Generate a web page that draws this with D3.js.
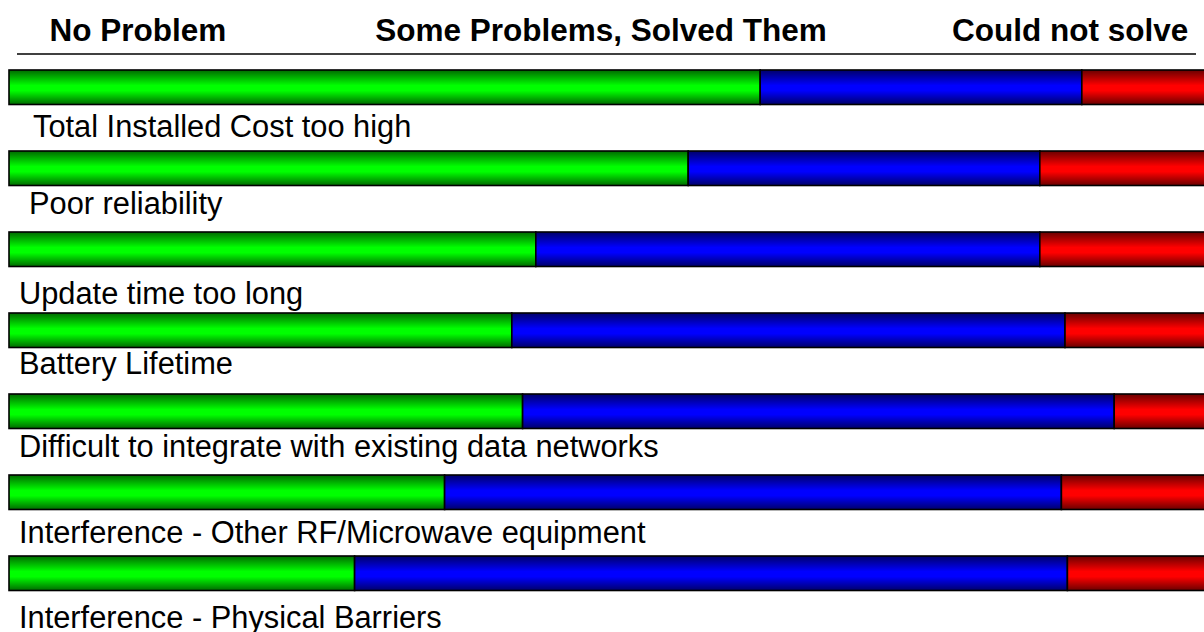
<!DOCTYPE html>
<html>
<head>
<meta charset="utf-8">
<script src="https://cdn.jsdelivr.net/npm/d3@7"></script>
<style>
  html, body { margin: 0; padding: 0; background: #fff; }
  svg { display: block; }
</style>
</head>
<body>
<svg id="chart" width="1204" height="632"></svg>
<script>
// Survey: problems encountered with wireless deployments (share of respondents, %)
const categories = [
  "Total Installed Cost too high",
  "Poor reliability",
  "Update time too long",
  "Battery Lifetime",
  "Difficult to integrate with existing data networks",
  "Interference - Other RF/Microwave equipment",
  "Interference - Physical Barriers"
];
const seriesNames = ["No Problem", "Some Problems, Solved Them", "Could not solve"];
const noProblem    = [62.6, 56.6, 43.9, 41.9, 42.8, 36.3, 28.8];
const solvedThem   = [26.8, 29.3, 42.0, 46.1, 49.3, 51.4, 59.4];
const couldNotSolve = [10.6, 14.1, 14.1, 12.0, 7.9, 12.3, 11.8];

// layout
const barLeft = 9, barRight = 1209;
const barTop0 = 70, barStep = 81, barH = 34.5;
// label offsets below each bar: [dx, baseline from bar top]
const labelLayout = [[33, 66.5], [29, 62.5], [19, 72], [19, 60.5], [19, 63], [19, 68], [19, 72]];
const headerX = [138, 601, 952];
const palette = [
  { dark: "#006a00", light: "#00ff00" },
  { dark: "#00006a", light: "#0000ff" },
  { dark: "#6a0000", light: "#ff0000" }
];

const svg = d3.select("#chart");
const defs = svg.append("defs");
palette.forEach((c, i) => {
  const g = defs.append("linearGradient")
    .attr("id", "grad" + i).attr("x1", 0).attr("y1", 0).attr("x2", 0).attr("y2", 1);
  g.append("stop").attr("offset", "0%").attr("stop-color", c.dark);
  g.append("stop").attr("offset", "45%").attr("stop-color", c.light);
  g.append("stop").attr("offset", "60%").attr("stop-color", c.light);
  g.append("stop").attr("offset", "100%").attr("stop-color", c.dark);
});

const rows = categories.map((name, i) => ({
  name,
  "No Problem": noProblem[i],
  "Some Problems, Solved Them": solvedThem[i],
  "Could not solve": couldNotSolve[i]
}));
const stacked = d3.stack().keys(seriesNames)(rows);

const x = d3.scaleLinear().domain([0, 100]).range([barLeft, barRight]);
const y = d3.scalePoint().domain(categories).range([barTop0, barTop0 + barStep * (categories.length - 1)]);

// header
svg.append("g").selectAll("text").data(seriesNames).join("text")
  .attr("x", (d, i) => headerX[i])
  .attr("y", 41)
  .attr("text-anchor", (d, i) => i === 2 ? "start" : "middle")
  .attr("font-family", "Liberation Sans, Arial, sans-serif")
  .attr("font-weight", "bold")
  .attr("font-size", 31.5)
  .attr("fill", "#000")
  .text(d => d);
svg.append("line")
  .attr("x1", 17).attr("x2", 1196).attr("y1", 54).attr("y2", 54)
  .attr("stroke", "#000").attr("stroke-width", 1.5);

// bars
svg.append("g").selectAll("g").data(stacked).join("g")
  .attr("fill", (d, i) => `url(#grad${i})`)
  .selectAll("rect").data(d => d).join("rect")
  .attr("x", d => x(d[0]))
  .attr("y", d => y(d.data.name))
  .attr("width", d => x(d[1]) - x(d[0]))
  .attr("height", barH)
  .attr("stroke", "#000")
  .attr("stroke-width", 1.6);

// category labels
svg.append("g").selectAll("text").data(categories).join("text")
  .attr("x", (d, i) => labelLayout[i][0])
  .attr("y", (d, i) => y(d) + labelLayout[i][1])
  .attr("font-family", "Liberation Sans, Arial, sans-serif")
  .attr("font-size", 30.8)
  .attr("fill", "#000")
  .text(d => d);
</script>
</body>
</html>
